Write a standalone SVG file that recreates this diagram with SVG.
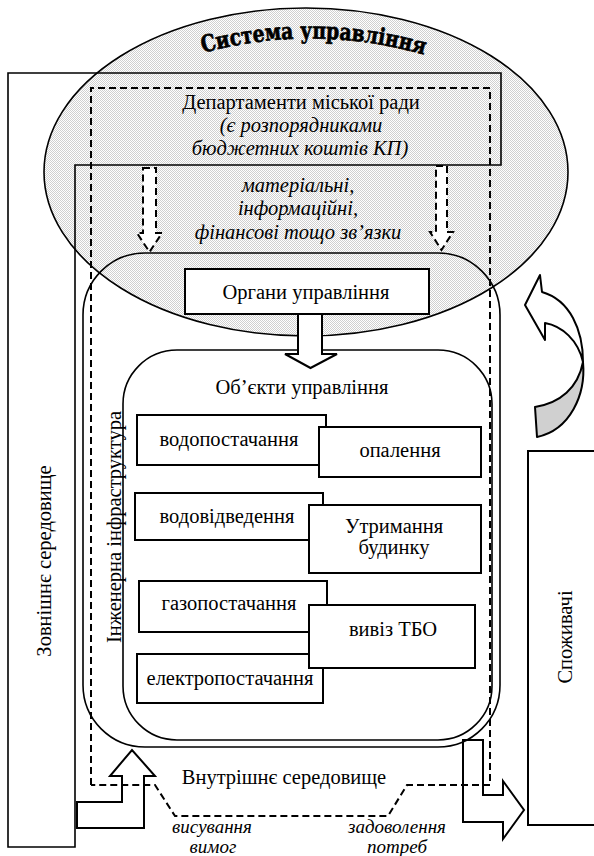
<svg xmlns="http://www.w3.org/2000/svg" width="594" height="856" viewBox="0 0 594 856">
<style>
.t{font-family:"Liberation Serif","Times New Roman",serif;font-size:20.5px;fill:#000}
.i{font-style:italic}
.m{text-anchor:middle}
.s{font-size:19px}
.b{fill:#fff;stroke:#000;stroke-width:2}
.o{fill:none;stroke:#000;stroke-width:1.6}
.d{fill:none;stroke:#000;stroke-width:2;stroke-dasharray:7 4}
.dw{fill:#fff;stroke:#000;stroke-width:2;stroke-dasharray:7 4}
</style>
<defs>
<pattern id="hatch" width="2" height="2" patternUnits="userSpaceOnUse">
<rect width="2" height="2" fill="#fff"/>
<rect width="1" height="1" fill="#d0d0d0"/>
<rect x="1" y="1" width="1" height="1" fill="#d0d0d0"/>
</pattern>
<path id="arc" d="M 195,55 Q 313,21 432,57"/>
</defs>
<rect width="594" height="856" fill="#fff"/>

<g id="system">
<ellipse cx="306" cy="172" rx="262" ry="164" fill="url(#hatch)" stroke="#000" stroke-width="1.6"/>
<text style="font-family:'DejaVu Serif',serif;font-weight:bold;font-size:23px;fill:#000;stroke:#000;stroke-width:0.7"><textPath href="#arc" startOffset="50%" text-anchor="middle" textLength="224" lengthAdjust="spacingAndGlyphs">Система управління</textPath></text>
</g>

<g id="external">
<path class="o" d="M8,73 H501 V165 H75 V847 H8 Z"/>
<text class="t m" transform="translate(51,561) rotate(-90)">Зовнішнє середовище</text>
</g>

<g id="departments">
<text class="t m" x="301" y="109">Департаменти міської ради</text>
<text class="t i m" x="301" y="132">(є розпорядниками</text>
<text class="t i m" x="300" y="155">бюджетних коштів КП)</text>
</g>

<g id="links">
<text class="t i m" x="298" y="192">матеріальні,</text>
<text class="t i m" x="298" y="215">інформаційні,</text>
<text class="t i m" x="298" y="239">фінансові тощо зв’язки</text>
</g>

<g id="internal">
<rect class="o" x="83" y="253" width="417" height="494" rx="62"/>
<text class="t m" x="284" y="784">Внутрішнє середовище</text>
</g>

<g id="objects">
<rect class="o" x="123" y="350" width="369" height="390" rx="54"/>
<text class="t m" x="302" y="394">Об’єкти управління</text>
<text class="t m" transform="translate(121,527) rotate(-90)">Інженерна інфраструктура</text>
</g>

<g id="organs">
<rect class="b" x="185" y="269" width="244" height="45"/>
<text class="t m" x="306" y="299">Органи управління</text>
</g>

<g id="n-vodopost"><rect class="b" x="137" y="415" width="189" height="50"/><text class="t m" x="229" y="446">водопостачання</text></g>
<g id="n-opalennia"><rect class="b" x="319" y="427" width="162" height="50"/><text class="t m" x="400" y="457">опалення</text></g>
<g id="n-vodovid"><rect class="b" x="135" y="493" width="188" height="47"/><text class="t m" x="227" y="523">водовідведення</text></g>
<g id="n-utrym"><rect class="b" x="309" y="505" width="172" height="68"/><text class="t m" x="394" y="533">Утримання</text><text class="t m" x="394" y="554">будинку</text></g>
<g id="n-gazo"><rect class="b" x="139" y="581" width="188" height="51"/><text class="t m" x="229" y="610">газопостачання</text></g>
<g id="n-elektro"><rect class="b" x="137" y="654" width="186" height="49"/><text class="t m" x="230" y="685">електропостачання</text></g>
<g id="n-tbo"><rect class="b" x="309" y="605" width="166" height="63"/><text class="t m" x="393" y="636">вивіз ТБО</text></g>

<g id="consumers">
<rect x="528" y="451" width="80" height="374" fill="none" stroke="#000" stroke-width="2"/>
<text class="t m" transform="translate(572,637) rotate(-90)">Споживачі</text>
</g>

<g id="connectors">
<path class="d" d="M91,785 V88 H490 V785 H407 L388,816 H175 L155,785 H91"/>
<polygon class="dw" points="143,168 156,168 156,233 162,233 149.5,252 137,233 143,233"/>
<polygon class="dw" points="436,166 447,166 447,232 453,232 441.5,250 430,232 436,232"/>
<polygon class="b" points="298,314 322,314 322,354 337,354 310.5,368 285,354 298,354"/>
<polygon fill="none" stroke="#000" stroke-width="2" points="77,802 122,802 122,776 110,776 132,750 155,776 144,776 144,828 77,828"/>
<polygon fill="none" stroke="#000" stroke-width="2" points="463,740 483,740 483,795 503,795 503,781 524,810 503,839 503,822 463,822"/>
<path fill="#fff" stroke="#000" stroke-width="2" stroke-linejoin="round" d="M583,362 C583,330 570,300 542,292 L540,275 L525,305 L545,340 L545,323 C562,326 578,340 583,362 Z"/>
<path fill="#d0d0d0" stroke="#000" stroke-width="2" stroke-linejoin="round" d="M583,362 C586,395 570,430 537,437 L535,407 C560,403 578,388 583,362 Z"/>
<text class="t i m s" x="212" y="833">висування</text>
<text class="t i m s" x="213" y="853">вимог</text>
<text class="t i m s" x="397" y="833">задоволення</text>
<text class="t i m s" x="397" y="853">потреб</text>
</g>
</svg>
